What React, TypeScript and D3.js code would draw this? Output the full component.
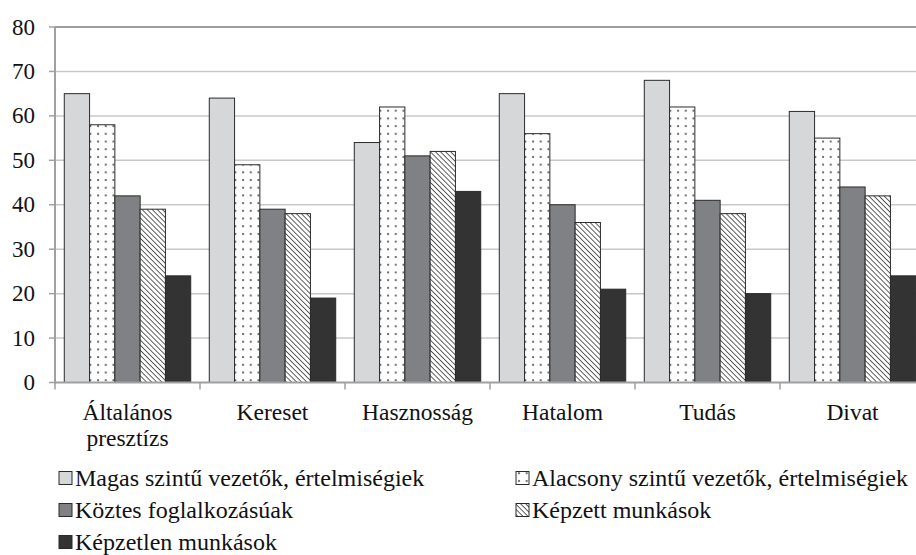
import * as d3 from 'd3';
import { type FC } from 'react';

const categories: string[][] = [
  ['Általános', 'presztízs'],
  ['Kereset'],
  ['Hasznosság'],
  ['Hatalom'],
  ['Tudás'],
  ['Divat'],
];

const seriesNames = [
  'Magas szintű vezetők, értelmiségiek',
  'Alacsony szintű vezetők, értelmiségiek',
  'Köztes foglalkozásúak',
  'Képzett munkások',
  'Képzetlen munkások',
];

const magas = [65, 64, 54, 65, 68, 61];
const alacsony = [58, 49, 62, 56, 62, 55];
const koztes = [42, 39, 51, 40, 41, 44];
const kepzett = [39, 38, 52, 36, 38, 42];
const kepzetlen = [24, 19, 43, 21, 20, 24];

const seriesValues = [magas, alacsony, koztes, kepzett, kepzetlen];
const fills = ['#d6d7d9', 'url(#dots)', '#808184', 'url(#hatch)', '#333333'];

const yTicks = [0, 10, 20, 30, 40, 50, 60, 70, 80];

const width = 916;
const height = 555;
const marginLeft = 55;
const plotRight = 925;
const marginTop = 27;
const plotBottom = 382.5;

const font = 'Liberation Serif';

const App: FC = () => {
  const x0 = d3
    .scaleBand<number>()
    .domain(d3.range(categories.length))
    .range([marginLeft, plotRight])
    .paddingInner(0.128)
    .paddingOuter(0.064);

  const x1 = d3
    .scaleBand<number>()
    .domain(d3.range(seriesNames.length))
    .range([0, x0.bandwidth()]);

  const y = d3.scaleLinear([0, 80], [plotBottom, marginTop]);

  const step = (plotRight - marginLeft) / categories.length;

  return (
    <svg
      width={width}
      height={height}
      viewBox={`0 0 ${width} ${height}`}
      style={{ position: 'absolute', left: 0, top: 0, background: '#fff' }}
    >
      <defs>
        <pattern id="dots" width={7.7} height={7.7} patternUnits="userSpaceOnUse">
          <rect width={7.7} height={7.7} fill="#fff" />
          <circle cx={3} cy={3} r={1.1} fill="#555" />
        </pattern>
        <pattern
          id="hatch"
          width={3.6}
          height={3.6}
          patternUnits="userSpaceOnUse"
          patternTransform="rotate(-45)"
        >
          <rect width={3.6} height={3.6} fill="#fff" />
          <line x1={0} y1={0} x2={0} y2={3.6} stroke="#444" strokeWidth={1.7} />
        </pattern>
      </defs>

      {/* gridlines */}
      {yTicks.slice(1).map((t) => (
        <line
          key={t}
          x1={marginLeft}
          x2={plotRight}
          y1={y(t)}
          y2={y(t)}
          stroke={t === 80 ? '#9d9d9d' : '#c8c8c8'}
          strokeWidth={t === 80 ? 2 : 1.5}
        />
      ))}

      {/* y axis */}
      <line x1={marginLeft} x2={marginLeft} y1={marginTop} y2={plotBottom + 1} stroke="#a0a0a0" strokeWidth={2} />
      {yTicks.map((t) => (
        <g key={t}>
          <line x1={marginLeft - 6} x2={marginLeft} y1={y(t)} y2={y(t)} stroke="#a0a0a0" strokeWidth={1.5} />
          <text x={35} y={y(t)} dy="0.33em" textAnchor="end" fontSize={23} fill="#111" fontFamily={font}>
            {t}
          </text>
        </g>
      ))}

      {/* bars */}
      {categories.map((_, ci) => (
        <g key={ci} transform={`translate(${x0(ci)},0)`}>
          {seriesValues.map((vals, si) => (
            <rect
              key={si}
              x={x1(si)}
              y={y(vals[ci])}
              width={x1.bandwidth()}
              height={y(0) - y(vals[ci])}
              fill={fills[si]}
              stroke="#2a2a2a"
              strokeWidth={1}
            />
          ))}
        </g>
      ))}

      {/* x axis */}
      <line x1={marginLeft - 1} x2={plotRight} y1={plotBottom} y2={plotBottom} stroke="#a0a0a0" strokeWidth={2} />
      {d3.range(categories.length + 1).map((i) => (
        <line
          key={i}
          x1={marginLeft + i * step}
          x2={marginLeft + i * step}
          y1={plotBottom}
          y2={plotBottom + 7}
          stroke="#a0a0a0"
          strokeWidth={1.5}
        />
      ))}
      {categories.map((lines, ci) => (
        <text
          key={ci}
          x={marginLeft + (ci + 0.5) * step}
          y={420}
          textAnchor="middle"
          fontSize={23.5}
          fill="#111"
          fontFamily={font}
        >
          {lines.map((l, li) => (
            <tspan key={li} x={marginLeft + (ci + 0.5) * step} dy={li === 0 ? 0 : 26}>
              {l}
            </tspan>
          ))}
        </text>
      ))}

      {/* legend */}
      {seriesNames.map((name, si) => {
        const col = si % 2;
        const row = Math.floor(si / 2);
        const lx = col === 0 ? 59 : 516;
        const ly = 478 + row * 32;
        return (
          <g key={si} transform={`translate(${lx},${ly})`}>
            <rect x={0} y={-6.5} width={13} height={13} fill={fills[si]} stroke="#2a2a2a" strokeWidth={1} />
            <text x={16} y={0} dy="0.33em" fontSize={24} fill="#111" fontFamily={font}>
              {name}
            </text>
          </g>
        );
      })}
    </svg>
  );
};

export default App;
